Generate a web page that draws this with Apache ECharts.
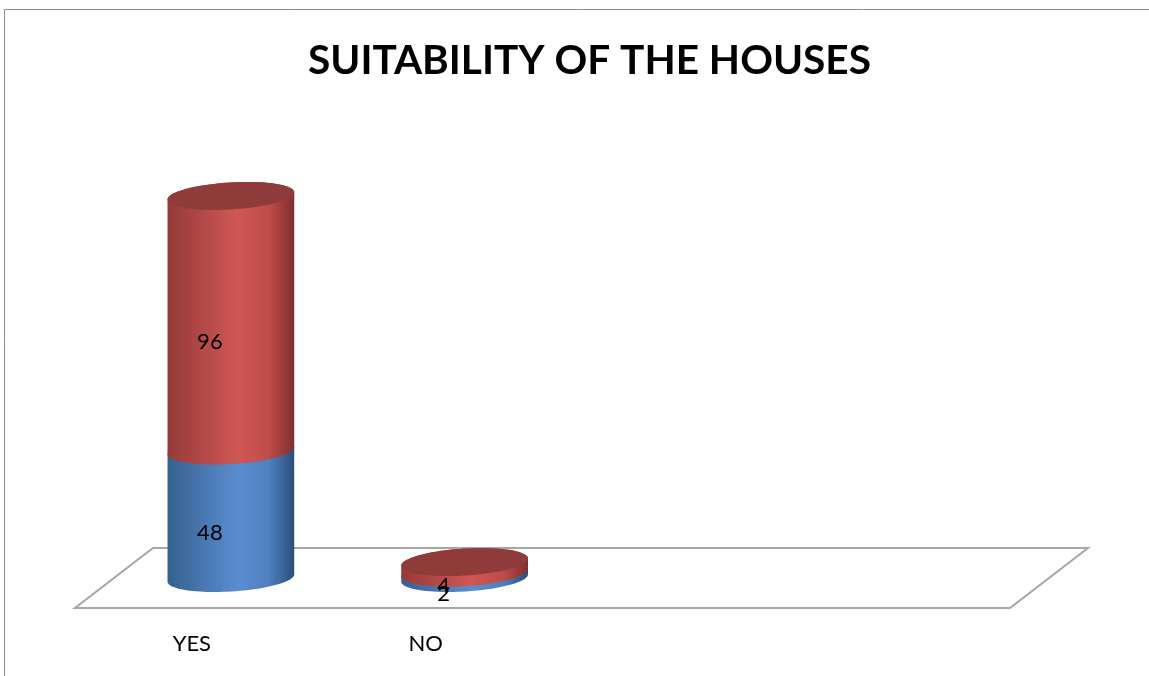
<!DOCTYPE html>
<html>
<head>
<meta charset="utf-8">
<script src="https://cdn.jsdelivr.net/npm/echarts@6/dist/echarts.min.js"></script>
<style>html,body{margin:0;padding:0;background:#fff}#c{width:1149px;height:676px}</style>
</head>
<body>
<div id="c"></div>
<script>
const categories = ['YES', 'NO', '', ''];
const blueValues = [48, 2, null, null];
const redValues = [96, 4, null, null];
const titleText = 'SUITABILITY OF THE HOUSES';

const DEPTH_X = 78, DEPTH_Y = -60;   // floor depth offset
const BAR_RATIO = 0.543, RY = 13.5, TILT = -0.06;

function ellPt(cx, cy, rx, ry, t) {
  const ca = Math.cos(TILT), sa = Math.sin(TILT);
  const x = rx * Math.cos(t), y = ry * Math.sin(t);
  return [cx + x * ca - y * sa, cy + x * sa + y * ca];
}

function makeCyl(colors) {
  return function (params, api) {
    const cat = api.value(0), v0 = api.value(1), v1 = api.value(2), isTop = api.value(3), lab = api.value(4);
    const p0 = api.coord([cat, v0]), p1 = api.coord([cat, v1]);
    const bw = api.size([1, 0])[0] * BAR_RATIO;
    const cx = p0[0] + DEPTH_X / 2, yb = p0[1] + DEPTH_Y / 2, yt = p1[1] + DEPTH_Y / 2;
    const rx = bw / 2;
    const N = 48;
    const pts = [];
    for (let i = 0; i <= N; i++) pts.push(ellPt(cx, yb, rx, RY, Math.PI - Math.PI * i / N));
    for (let i = 0; i <= N; i++) pts.push(ellPt(cx, yt, rx, RY, -Math.PI * i / N));
    const children = [{
      type: 'polygon', shape: { points: pts }, z2: 1,
      style: {
        fill: new echarts.graphic.LinearGradient(0, 0, 1, 0, [
          { offset: 0, color: colors.edgeL },
          { offset: 0.55, color: colors.mid },
          { offset: 0.8, color: colors.mid2 },
          { offset: 1, color: colors.edgeR }
        ])
      }
    }];
    if (isTop) {
      const cap = [];
      for (let i = 0; i < N * 2; i++) cap.push(ellPt(cx, yt, rx, RY, 2 * Math.PI * i / (N * 2)));
      children.push({ type: 'polygon', shape: { points: cap }, z2: 2, style: { fill: colors.cap } });
    }
    children.push({
      type: 'text', z2: 100,
      style: {
        text: String(lab), x: cx - 21, y: (yb + yt) / 2 + 19,
        align: 'center', verticalAlign: 'middle',
        fill: '#000', fontSize: 22, fontFamily: 'Lato'
      }
    });
    return { type: 'group', children: children };
  };
}

function floorRender(params, api) {
  const cs = params.coordSys;
  const x0 = cs.x, x1 = cs.x + cs.width, yB = cs.y + cs.height;
  return {
    type: 'polygon',
    shape: { points: [[x0, yB], [x1, yB], [x1 + DEPTH_X, yB + DEPTH_Y], [x0 + DEPTH_X, yB + DEPTH_Y]] },
    style: { fill: '#fff', stroke: '#a6a6a6', lineWidth: 2 }
  };
}

const blueData = [], redData = [];
categories.forEach((c, i) => {
  if (blueValues[i] != null) blueData.push([i, 0, blueValues[i], 0, blueValues[i]]);
  if (redValues[i] != null) redData.push([i, blueValues[i] || 0, (blueValues[i] || 0) + redValues[i], 1, redValues[i]]);
});

const chart = echarts.init(document.getElementById('c'));
chart.setOption({
  animation: false,
  backgroundColor: '#fff',
  title: {
    text: titleText, left: 303, top: 35,
    textStyle: { fontFamily: 'Lato', fontWeight: 'bold', fontSize: 40.6, color: '#000' }
  },
  graphic: [{
    type: 'rect', shape: { x: 4.5, y: 9.5, width: 1200, height: 700 },
    style: { fill: 'none', stroke: '#8c8c8c', lineWidth: 1 }, silent: true, z: -1
  }],
  grid: { left: 75, right: 139, bottom: 68, top: 210 },
  xAxis: {
    type: 'category', data: categories,
    axisLine: { show: false }, axisTick: { show: false }, splitLine: { show: false },
    axisLabel: { margin: 25, color: '#000', fontFamily: 'Lato', fontSize: 22 }
  },
  yAxis: { type: 'value', min: 0, max: 150, show: false, splitLine: { show: false } },
  series: [
    { type: 'custom', renderItem: floorRender, data: [[0]], z: 1, silent: true },
    { type: 'custom', name: 'Blue', renderItem: makeCyl({ edgeL: '#36608f', mid: '#5a8dd0', mid2: '#4f80c0', edgeR: '#2c4f7a', cap: '#4a77b0' }), data: blueData, z: 2, encode: { x: 0, y: [1, 2] } },
    { type: 'custom', name: 'Red', renderItem: makeCyl({ edgeL: '#953a3a', mid: '#cf5754', mid2: '#bf4c4a', edgeR: '#7f2f2f', cap: '#8f3b3a' }), data: redData, z: 2, encode: { x: 0, y: [1, 2] } }
  ]
});
</script>
</body>
</html>
